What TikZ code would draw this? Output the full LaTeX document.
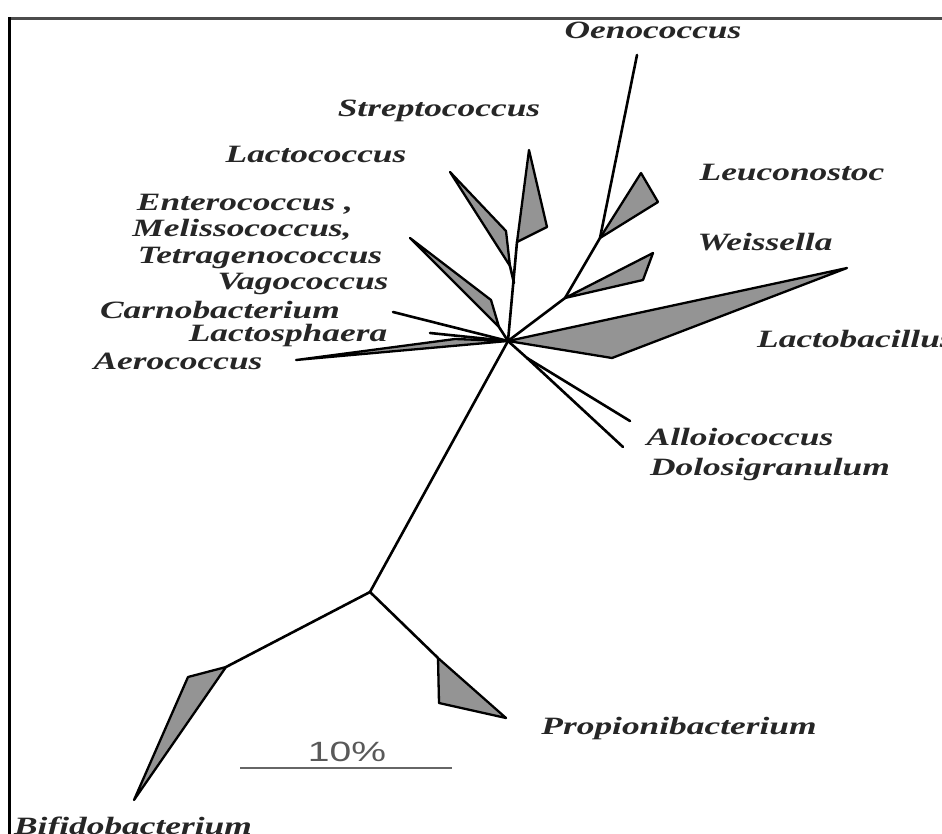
\documentclass[tikz,border=0pt]{standalone}
\usepackage{fontspec}
\setmainfont{Liberation Serif}
\newfontfamily\scalefont{Liberation Sans}
\newcommand{\taxon}[1]{\scalebox{1.42}[1]{\fontsize{25}{27}\selectfont\bfseries\itshape #1}}
\begin{document}
\begin{tikzpicture}[x=1bp,y=-1bp,
  branch/.style={draw=black, line width=2.6bp, line join=round, line cap=round},
  clade/.style={draw=black, fill=black!42, line width=2.3bp, line join=round},
  lab/.style={inner sep=0pt, text=black!85}]
\fill[white] (0,0) rectangle (942,834);
\useasboundingbox (0,0) rectangle (942,834);
% frame
\draw[black!70, line width=3bp] (9,18) -- (942,18);
\draw[black, line width=3bp] (9,17) -- (9,834);

% tree coordinates
\coordinate (H) at (508,341);
\coordinate (P) at (565,298);
\coordinate (Q) at (600,238);
\coordinate (O1) at (637,55);
\coordinate (L1) at (641,173);
\coordinate (L2) at (658,202);
\coordinate (W1) at (653,253);
\coordinate (W2) at (643,280);
\coordinate (Lb1) at (847,268);
\coordinate (Lb2) at (612,358);
\coordinate (S1) at (517,242);
\coordinate (S2) at (529,150);
\coordinate (S3) at (547,227);
\coordinate (K0) at (514,283);
\coordinate (K1) at (450,172);
\coordinate (K2) at (506,231);
\coordinate (K3) at (510,266);
\coordinate (E1) at (410,238);
\coordinate (E2) at (491,300);
\coordinate (E3) at (499,327);
\coordinate (C1) at (393,312);
\coordinate (LS) at (430,333);
\coordinate (A1) at (296,360);
\coordinate (A2) at (455,339);
\coordinate (D0) at (527,358);
\coordinate (Al) at (630,421);
\coordinate (Do) at (623,447);
\coordinate (R) at (370,592);
\coordinate (B0) at (226,667);
\coordinate (B1) at (188,677);
\coordinate (B2) at (134,800);
\coordinate (P0) at (438,658);
\coordinate (P1) at (439,703);
\coordinate (P2) at (506,718);
\coordinate (SB1) at (240,768);
\coordinate (SB2) at (452,768);

% clades (filled wedges)
\path[clade] (H) -- (Lb1) -- (Lb2) -- cycle;
\path[clade] (Q) -- (L1) -- (L2) -- cycle;
\path[clade] (P) -- (W1) -- (W2) -- cycle;
\path[clade] (S1) -- (S2) -- (S3) -- cycle;
\path[clade] (K1) -- (K2) -- (K3) -- cycle;
\path[clade] (E1) -- (E2) -- (E3) -- cycle;
\path[clade] (A1) -- (A2) -- (H) -- cycle;
\path[clade] (B0) -- (B1) -- (B2) -- cycle;
\path[clade] (P0) -- (P1) -- (P2) -- cycle;

% branches
\draw[branch] (H) -- (P);
\draw[branch] (P) -- (Q);
\draw[branch] (Q) -- (O1);
\draw[branch] (H) -- (S1);
\draw[branch] (K3) -- (K0);
\draw[branch] (E3) -- (H);
\draw[branch] (C1) -- (H);
\draw[branch] (LS) -- (H);
\draw[branch] (H) -- (D0);
\draw[branch] (D0) -- (Al);
\draw[branch] (D0) -- (Do);
\draw[branch] (H) -- (R);
\draw[branch] (R) -- (B0);
\draw[branch] (R) -- (P0);

% scale bar
\draw[black!60, line width=2.5bp] (SB1) -- (SB2);
\node[lab, text=black!65] (scl) at (347,752) {\scalebox{1.4}[1]{\fontsize{28}{30}\selectfont\scalefont 10\%}};

% labels
\node[lab] (oen) at (653,30) {\taxon{Oenococcus}};
\node[lab] (str) at (439,111) {\taxon{Streptococcus}};
\node[lab] (lcc) at (316,154) {\taxon{Lactococcus}};
\node[lab] (leu) at (792,172) {\taxon{Leuconostoc}};
\node[lab] (ent) at (245,204) {\taxon{Enterococcus ,}};
\node[lab] (mel) at (242,230) {\taxon{Melissococcus,}};
\node[lab] (tet) at (260,258) {\taxon{Tetragenococcus}};
\node[lab] (vag) at (303,284) {\taxon{Vagococcus}};
\node[lab] (wei) at (765,242) {\taxon{Weissella}};
\node[lab] (car) at (220,310) {\taxon{Carnobacterium}};
\node[lab] (lsp) at (288,336) {\taxon{Lactosphaera}};
\node[lab] (aer) at (178,361) {\taxon{Aerococcus}};
\node[lab, anchor=west] (lab) at (757,339) {\taxon{Lactobacillus}};
\node[lab] (all) at (740,437) {\taxon{Alloiococcus}};
\node[lab] (dol) at (770,470) {\taxon{Dolosigranulum}};
\node[lab] (pro) at (679,729) {\taxon{Propionibacterium}};
\node[lab] (bif) at (133,828) {\taxon{Bifidobacterium}};
\end{tikzpicture}
\end{document}
